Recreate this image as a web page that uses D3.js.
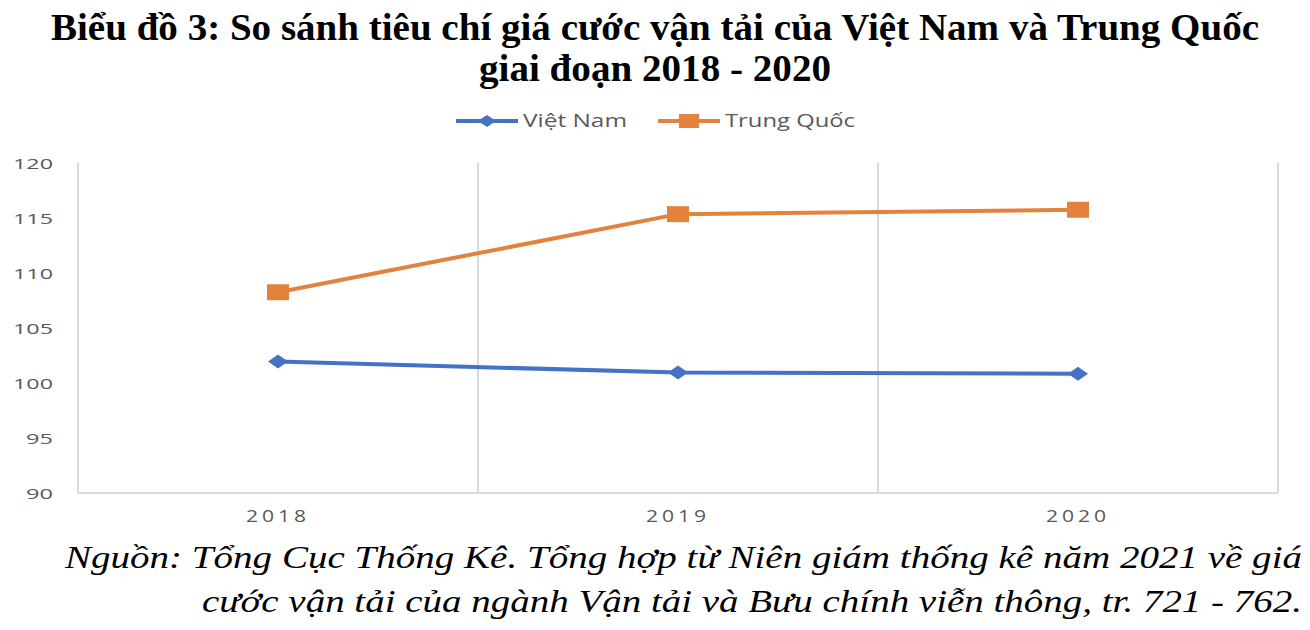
<!DOCTYPE html>
<html><head><meta charset="utf-8">
<script src="https://cdn.jsdelivr.net/npm/d3@7"></script>
<style>body{margin:0;background:#fff}</style>
</head><body>
<svg id="c" width="1310" height="630"></svg>
<script>
const categories = ["2018", "2019", "2020"];
const vietNam = [101.95, 100.95, 100.85];
const trungQuoc = [108.25, 115.35, 115.75];
const yTicks = [90, 95, 100, 105, 110, 115, 120];
const seriesNames = ["Việt Nam", "Trung Quốc"];
const titleLines = ["Biểu đồ 3: So sánh tiêu chí giá cước vận tải của Việt Nam và Trung Quốc", "giai đoạn 2018 - 2020"];
const sourceLines = ["Nguồn: Tổng Cục Thống Kê. Tổng hợp từ Niên giám thống kê năm 2021 về giá", "cước vận tải của ngành Vận tải và Bưu chính viễn thông, tr. 721 - 762."];

const svg = d3.select("#c");
const L = 78, R = 1278, T = 163, B = 493;
const x = d3.scaleBand().domain(categories).range([L, R]);
const y = d3.scaleLinear().domain([90, 120]).range([B, T]);
const blue = "#4472C4", orange = "#E2823C", grid = "#d9d9d9", txt = "#595959";

// title
svg.append("g").selectAll("text").data(titleLines).join("text")
  .attr("x", 655).attr("y", (d, i) => 40 + i * 41)
  .attr("text-anchor", "middle")
  .attr("font-family", "Liberation Serif").attr("font-weight", "bold").attr("font-size", 37)
  .attr("textLength", (d, i) => i === 0 ? 1208 : 352).attr("lengthAdjust", "spacingAndGlyphs")
  .attr("fill", "#000").text(d => d);

// gridlines (category boundaries)
const bounds = categories.map(c => x(c)).concat([R]);
svg.append("g").selectAll("line").data(bounds).join("line")
  .attr("x1", d => d).attr("x2", d => d).attr("y1", T).attr("y2", B)
  .attr("stroke", grid).attr("stroke-width", 2);
svg.append("line").attr("x1", L).attr("x2", R).attr("y1", B).attr("y2", B)
  .attr("stroke", grid).attr("stroke-width", 2);

// y axis
const yAxis = d3.axisLeft(y).tickValues(yTicks).tickSize(0).tickPadding(0);
const gy = svg.append("g").attr("transform", `translate(53,0)`).call(yAxis);
gy.select(".domain").remove();
gy.selectAll("text").attr("font-family", "Open Sans, sans-serif").attr("font-size", 15)
  .attr("fill", txt).attr("dy", "0.36em")
  .attr("textLength", d => String(d).length === 3 ? 40 : 27).attr("lengthAdjust", "spacingAndGlyphs");

// x axis
const xAxis = d3.axisBottom(x).tickSize(0);
const gx = svg.append("g").attr("transform", `translate(0,${B})`).call(xAxis);
gx.select(".domain").remove();
gx.selectAll("text").attr("font-family", "Open Sans, sans-serif").attr("font-size", 16)
  .attr("fill", txt).attr("y", 29).attr("dy", 0).attr("letter-spacing", 3)
  .attr("textLength", 64).attr("lengthAdjust", "spacingAndGlyphs");

const cx = c => x(c) + x.bandwidth() / 2;
const line = d3.line().x((d, i) => cx(categories[i])).y(d => y(d));

const series = [
  {name: seriesNames[0], values: vietNam, color: blue, marker: "diamond"},
  {name: seriesNames[1], values: trungQuoc, color: orange, marker: "square"}
];

function drawMarker(g, type, color) {
  if (type === "square") {
    g.append("rect").attr("x", -11).attr("y", -8).attr("width", 22).attr("height", 16).attr("fill", color);
  } else {
    g.append("path").attr("d", "M-10,0 L0,-7 L10,0 L0,7 Z").attr("fill", color);
  }
}

series.forEach(s => {
  svg.append("path").datum(s.values).attr("d", line)
    .attr("fill", "none").attr("stroke", s.color).attr("stroke-width", 4).attr("stroke-linejoin", "round");
  s.values.forEach((v, i) => {
    const g = svg.append("g").attr("transform", `translate(${cx(categories[i])},${y(v)})`);
    drawMarker(g, s.marker, s.color);
  });
});

// legend
const legendX = [456, 658];
const legendTextLen = [104, 130];
series.forEach((s, i) => {
  const g = svg.append("g").attr("transform", `translate(${legendX[i]},121)`);
  g.append("line").attr("x1", 0).attr("x2", 62).attr("stroke", s.color).attr("stroke-width", 4);
  const m = g.append("g").attr("transform", "translate(31,0)");
  if (s.marker === "square") m.append("rect").attr("x", -10).attr("y", -7).attr("width", 20).attr("height", 14).attr("fill", s.color);
  else m.append("path").attr("d", "M-9,0 L0,-6 L9,0 L0,6 Z").attr("fill", s.color);
  g.append("text").attr("x", 67).attr("y", 0).attr("dy", "0.36em")
    .attr("font-family", "Open Sans, sans-serif").attr("font-size", 18).attr("fill", txt)
    .attr("textLength", legendTextLen[i]).attr("lengthAdjust", "spacingAndGlyphs").text(s.name);
});

// source
svg.append("g").selectAll("text").data(sourceLines).join("text")
  .attr("x", 1302).attr("y", (d, i) => 568 + i * 44)
  .attr("text-anchor", "end")
  .attr("font-family", "Liberation Serif").attr("font-style", "italic").attr("font-size", 31)
  .attr("textLength", (d, i) => i === 0 ? 1237 : 1100).attr("lengthAdjust", "spacingAndGlyphs")
  .attr("fill", "#000").text(d => d);
</script>
</body></html>
